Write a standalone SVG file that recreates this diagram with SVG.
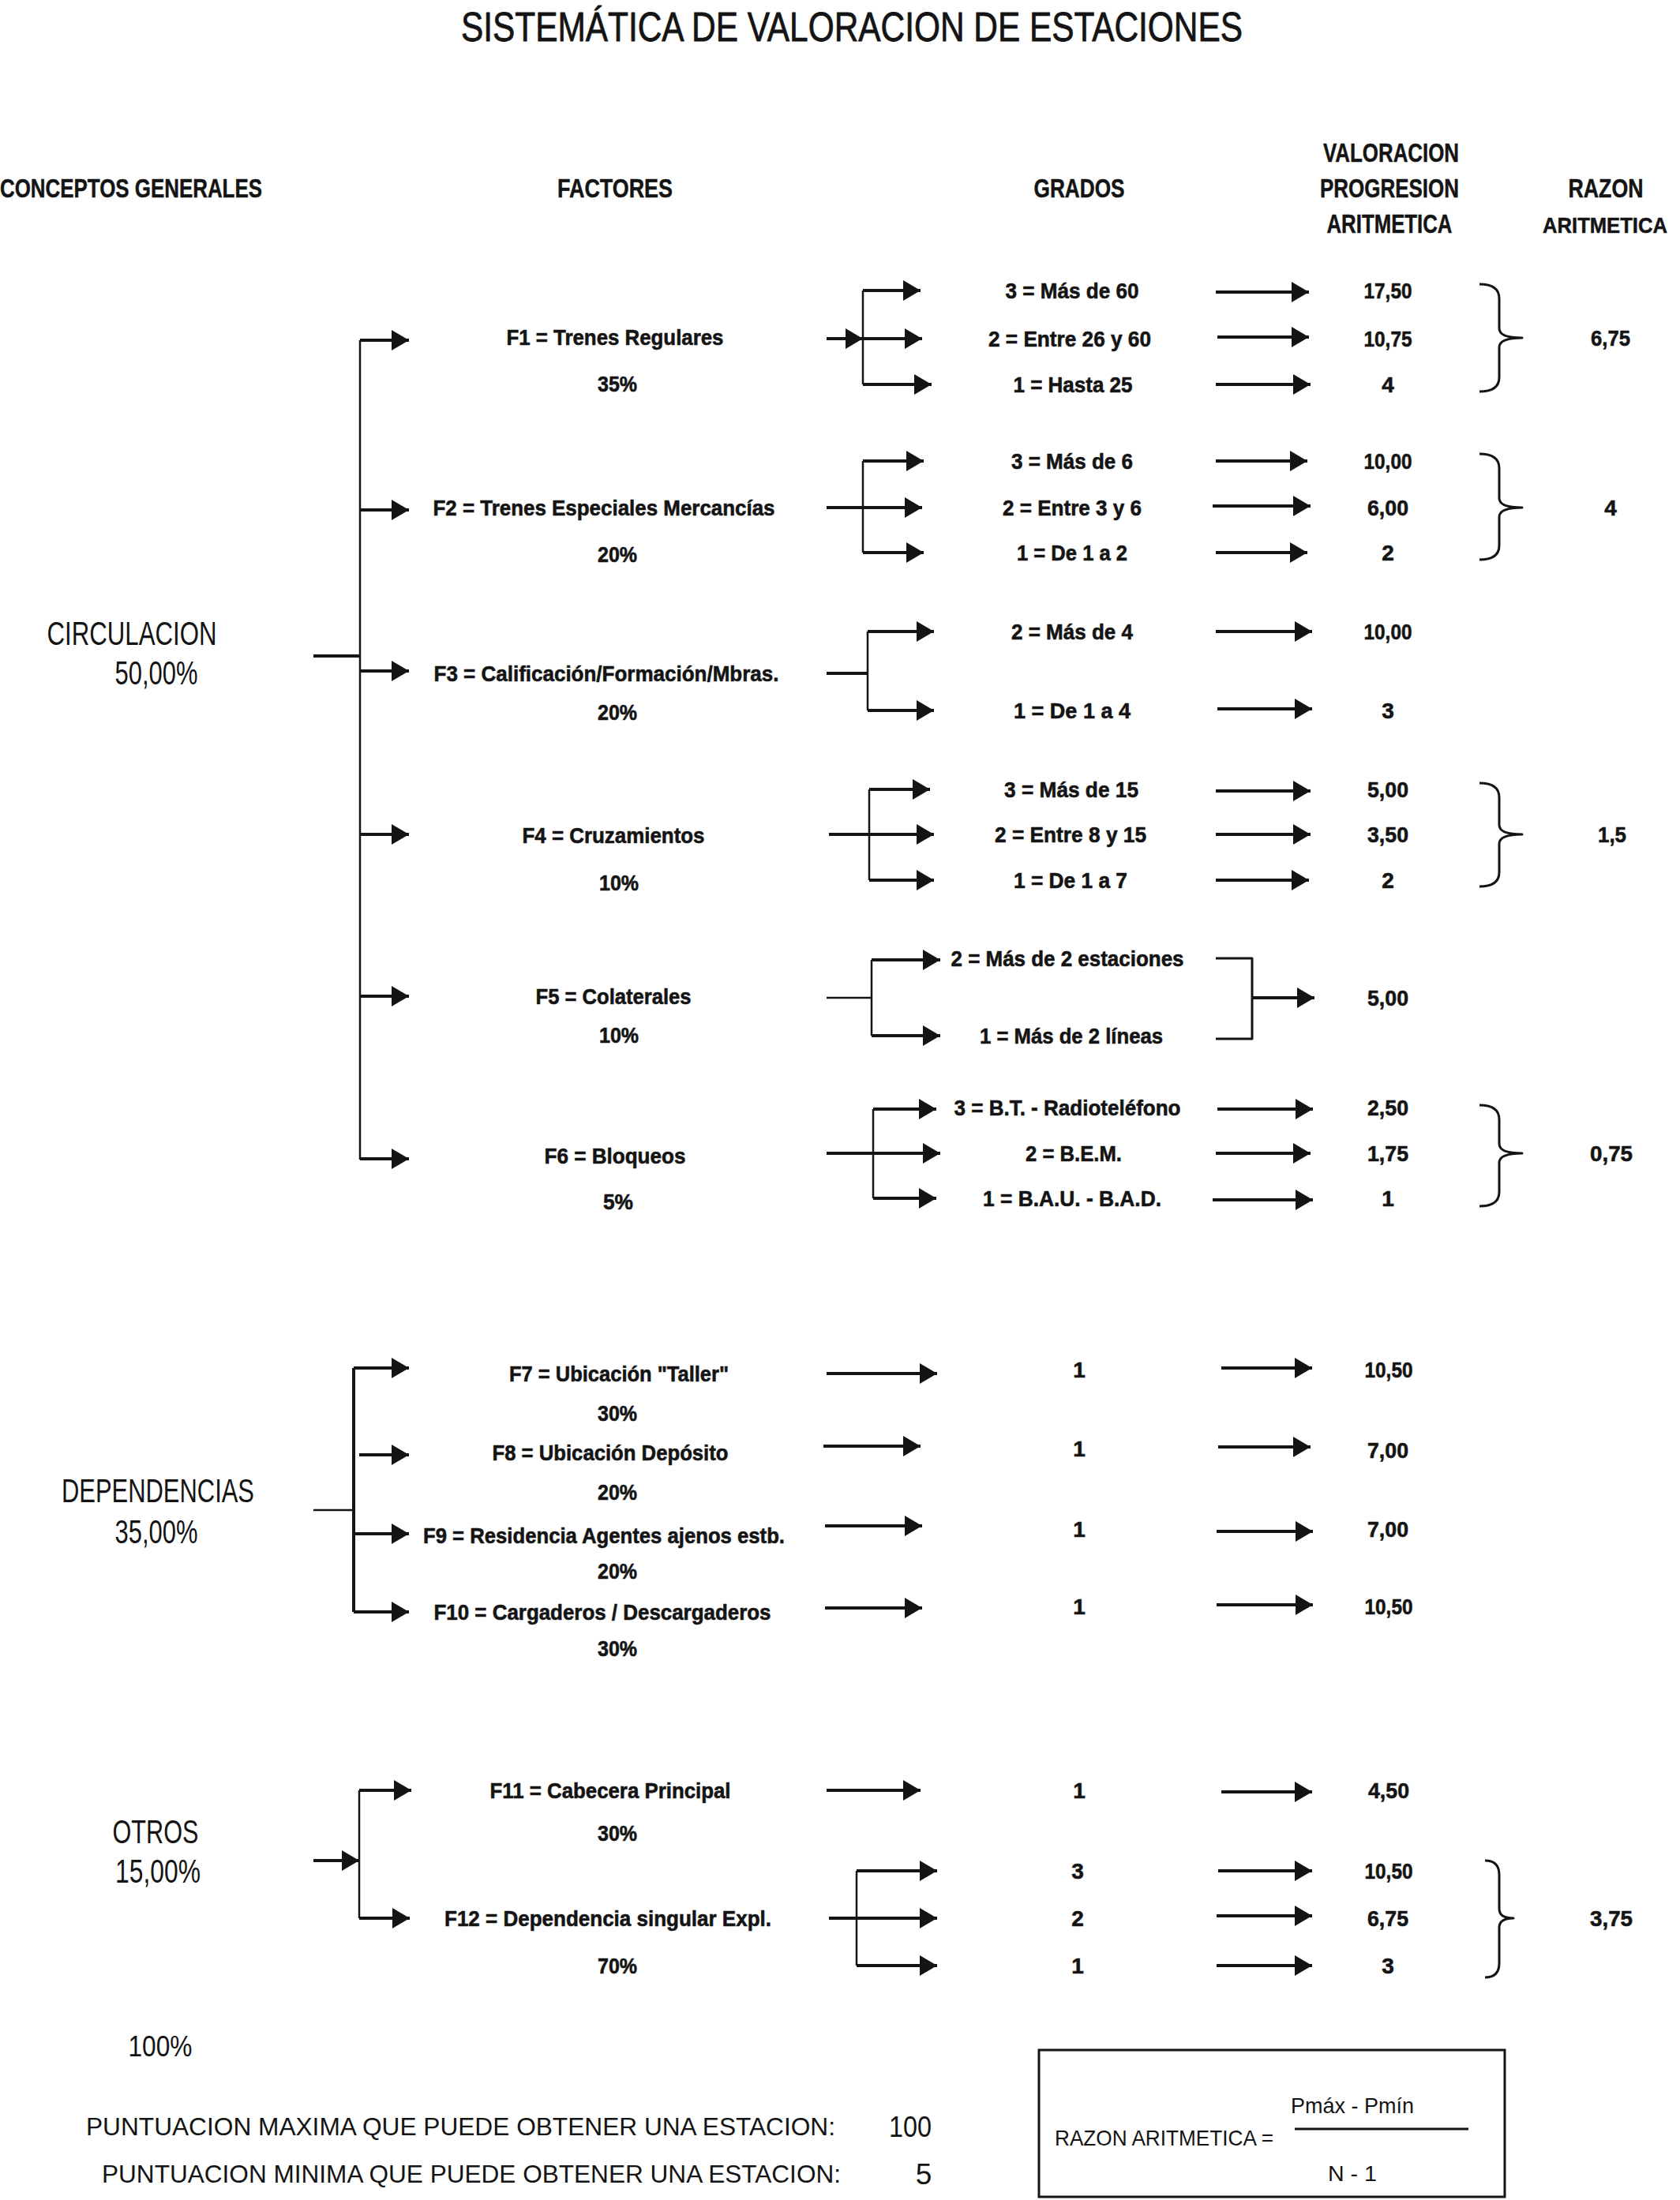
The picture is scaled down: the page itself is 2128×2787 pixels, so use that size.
<svg xmlns="http://www.w3.org/2000/svg" width="2128" height="2787" viewBox="0 0 2128 2787">
<defs>
<style>
text{font-family:"Liberation Sans",Arial,sans-serif;fill:#141414}
.m{text-anchor:middle}
.b{font-weight:bold;font-size:28px;stroke:#141414;stroke-width:0.6}
.h{font-weight:bold;font-size:34px;stroke:#141414;stroke-width:0.5}
.s{font-size:42px}
.r{font-size:37px}
.ln{stroke:#141414;fill:none;stroke-width:2.5}
.th{stroke:#141414;fill:none;stroke-width:4}
.ar{stroke:#141414;fill:none;stroke-width:4;marker-end:url(#ah)}
.br{stroke:#141414;fill:none;stroke-width:3;stroke-linejoin:round}
</style>
<marker id="ah" markerUnits="userSpaceOnUse" markerWidth="24" markerHeight="26" refX="22" refY="13" orient="auto">
<path d="M0,0 L22,13 L0,26 z" fill="#141414"/>
</marker>
</defs>
<rect width="2128" height="2787" fill="#ffffff"/>

<g id="title">
<text class="m" x="1079" y="52" font-size="52" stroke="#141414" stroke-width="0.8" textLength="990" lengthAdjust="spacingAndGlyphs">SISTEMÁTICA DE VALORACION DE ESTACIONES</text>
</g>

<g id="headers">
<text class="h" x="0" y="250" textLength="332" lengthAdjust="spacingAndGlyphs">CONCEPTOS GENERALES</text>
<text class="h m" x="779" y="250" textLength="146" lengthAdjust="spacingAndGlyphs">FACTORES</text>
<text class="h m" x="1367" y="250" textLength="115" lengthAdjust="spacingAndGlyphs">GRADOS</text>
<text class="h m" x="1762" y="205" textLength="172" lengthAdjust="spacingAndGlyphs">VALORACION</text>
<text class="h m" x="1760" y="250" textLength="176" lengthAdjust="spacingAndGlyphs">PROGRESION</text>
<text class="h m" x="1760" y="295" textLength="159" lengthAdjust="spacingAndGlyphs">ARITMETICA</text>
<text class="h m" x="2034" y="250" font-size="30" textLength="95" lengthAdjust="spacingAndGlyphs">RAZON</text>
<text class="h" x="1954" y="295" style="font-size:28px" textLength="158" lengthAdjust="spacingAndGlyphs">ARITMETICA</text>
</g>

<g id="circulacion">
<text class="s m" x="167" y="817" textLength="215" lengthAdjust="spacingAndGlyphs">CIRCULACION</text>
<text class="s m" x="198" y="867" textLength="105" lengthAdjust="spacingAndGlyphs">50,00%</text>
</g>

<g id="f1">
<text class="b m" x="779" y="437" textLength="275" lengthAdjust="spacingAndGlyphs">F1 = Trenes Regulares</text>
<text class="b m" x="782" y="496" textLength="50" lengthAdjust="spacingAndGlyphs">35%</text>
<text class="b m" x="1358" y="378" textLength="169" lengthAdjust="spacingAndGlyphs">3 = Más de 60</text>
<text class="b m" x="1355" y="439" textLength="206" lengthAdjust="spacingAndGlyphs">2 = Entre 26 y 60</text>
<text class="b m" x="1359" y="497" textLength="151" lengthAdjust="spacingAndGlyphs">1 = Hasta 25</text>
<text class="b m" x="1758" y="378" textLength="61" lengthAdjust="spacingAndGlyphs">17,50</text>
<text class="b m" x="1758" y="439" textLength="61" lengthAdjust="spacingAndGlyphs">10,75</text>
<text class="b m" x="1758" y="497">4</text>
<text class="b m" x="2040" y="438" textLength="50" lengthAdjust="spacingAndGlyphs">6,75</text>
</g>

<g id="f2">
<text class="b m" x="765" y="653" textLength="433" lengthAdjust="spacingAndGlyphs">F2 = Trenes Especiales Mercancías</text>
<text class="b m" x="782" y="712" textLength="50" lengthAdjust="spacingAndGlyphs">20%</text>
<text class="b m" x="1358" y="594" textLength="154" lengthAdjust="spacingAndGlyphs">3 = Más de 6</text>
<text class="b m" x="1358" y="653" textLength="176" lengthAdjust="spacingAndGlyphs">2 = Entre 3 y 6</text>
<text class="b m" x="1358" y="710" textLength="140" lengthAdjust="spacingAndGlyphs">1 = De 1 a 2</text>
<text class="b m" x="1758" y="594" textLength="61" lengthAdjust="spacingAndGlyphs">10,00</text>
<text class="b m" x="1758" y="653" textLength="52" lengthAdjust="spacingAndGlyphs">6,00</text>
<text class="b m" x="1758" y="710">2</text>
<text class="b m" x="2040" y="653">4</text>
</g>

<g id="f3">
<text class="b m" x="768" y="863" textLength="437" lengthAdjust="spacingAndGlyphs">F3 = Calificación/Formación/Mbras.</text>
<text class="b m" x="782" y="912" textLength="50" lengthAdjust="spacingAndGlyphs">20%</text>
<text class="b m" x="1358" y="810" textLength="154" lengthAdjust="spacingAndGlyphs">2 = Más de 4</text>
<text class="b m" x="1358" y="910" textLength="148" lengthAdjust="spacingAndGlyphs">1 = De 1 a 4</text>
<text class="b m" x="1758" y="810" textLength="61" lengthAdjust="spacingAndGlyphs">10,00</text>
<text class="b m" x="1758" y="910">3</text>
</g>

<g id="f4">
<text class="b m" x="777" y="1068" textLength="231" lengthAdjust="spacingAndGlyphs">F4 = Cruzamientos</text>
<text class="b m" x="784" y="1128" textLength="50" lengthAdjust="spacingAndGlyphs">10%</text>
<text class="b m" x="1357" y="1010" textLength="170" lengthAdjust="spacingAndGlyphs">3 = Más de 15</text>
<text class="b m" x="1356" y="1067" textLength="192" lengthAdjust="spacingAndGlyphs">2 = Entre 8 y 15</text>
<text class="b m" x="1356" y="1125" textLength="144" lengthAdjust="spacingAndGlyphs">1 = De 1 a 7</text>
<text class="b m" x="1758" y="1010" textLength="52" lengthAdjust="spacingAndGlyphs">5,00</text>
<text class="b m" x="1758" y="1067" textLength="52" lengthAdjust="spacingAndGlyphs">3,50</text>
<text class="b m" x="1758" y="1125">2</text>
<text class="b m" x="2042" y="1067" textLength="36" lengthAdjust="spacingAndGlyphs">1,5</text>
</g>

<g id="f5">
<text class="b m" x="777" y="1272" textLength="197" lengthAdjust="spacingAndGlyphs">F5 = Colaterales</text>
<text class="b m" x="784" y="1321" textLength="50" lengthAdjust="spacingAndGlyphs">10%</text>
<text class="b m" x="1352" y="1224" textLength="295" lengthAdjust="spacingAndGlyphs">2 = Más de 2 estaciones</text>
<text class="b m" x="1357" y="1322" textLength="232" lengthAdjust="spacingAndGlyphs">1 = Más de 2 líneas</text>
<text class="b m" x="1758" y="1274" textLength="52" lengthAdjust="spacingAndGlyphs">5,00</text>
</g>

<g id="f6">
<text class="b m" x="779" y="1474" textLength="179" lengthAdjust="spacingAndGlyphs">F6 = Bloqueos</text>
<text class="b m" x="783" y="1532" textLength="38" lengthAdjust="spacingAndGlyphs">5%</text>
<text class="b m" x="1352" y="1413" textLength="287" lengthAdjust="spacingAndGlyphs">3 = B.T. - Radioteléfono</text>
<text class="b m" x="1360" y="1471" textLength="122" lengthAdjust="spacingAndGlyphs">2 = B.E.M.</text>
<text class="b m" x="1358" y="1528" textLength="226" lengthAdjust="spacingAndGlyphs">1 = B.A.U. - B.A.D.</text>
<text class="b m" x="1758" y="1413" textLength="52" lengthAdjust="spacingAndGlyphs">2,50</text>
<text class="b m" x="1758" y="1471" textLength="52" lengthAdjust="spacingAndGlyphs">1,75</text>
<text class="b m" x="1758" y="1528">1</text>
<text class="b m" x="2041" y="1471" textLength="54" lengthAdjust="spacingAndGlyphs">0,75</text>
</g>

<g id="dependencias">
<text class="s m" x="200" y="1903" textLength="244" lengthAdjust="spacingAndGlyphs">DEPENDENCIAS</text>
<text class="s m" x="198" y="1955" textLength="105" lengthAdjust="spacingAndGlyphs">35,00%</text>
</g>

<g id="f7">
<text class="b m" x="784" y="1750" textLength="278" lengthAdjust="spacingAndGlyphs">F7 = Ubicación "Taller"</text>
<text class="b m" x="782" y="1800" textLength="50" lengthAdjust="spacingAndGlyphs">30%</text>
<text class="b m" x="1367" y="1745">1</text>
<text class="b m" x="1759" y="1745" textLength="61" lengthAdjust="spacingAndGlyphs">10,50</text>
</g>

<g id="f8">
<text class="b m" x="773" y="1850" textLength="299" lengthAdjust="spacingAndGlyphs">F8 = Ubicación Depósito</text>
<text class="b m" x="782" y="1900" textLength="50" lengthAdjust="spacingAndGlyphs">20%</text>
<text class="b m" x="1367" y="1845">1</text>
<text class="b m" x="1758" y="1847" textLength="52" lengthAdjust="spacingAndGlyphs">7,00</text>
</g>

<g id="f9">
<text class="b m" x="765" y="1955" textLength="458" lengthAdjust="spacingAndGlyphs">F9 = Residencia Agentes ajenos estb.</text>
<text class="b m" x="782" y="2000" textLength="50" lengthAdjust="spacingAndGlyphs">20%</text>
<text class="b m" x="1367" y="1947">1</text>
<text class="b m" x="1758" y="1947" textLength="52" lengthAdjust="spacingAndGlyphs">7,00</text>
</g>

<g id="f10">
<text class="b m" x="763" y="2052" textLength="427" lengthAdjust="spacingAndGlyphs">F10 = Cargaderos / Descargaderos</text>
<text class="b m" x="782" y="2098" textLength="50" lengthAdjust="spacingAndGlyphs">30%</text>
<text class="b m" x="1367" y="2045">1</text>
<text class="b m" x="1759" y="2045" textLength="61" lengthAdjust="spacingAndGlyphs">10,50</text>
</g>

<g id="otros">
<text class="s m" x="197" y="2335" textLength="109" lengthAdjust="spacingAndGlyphs">OTROS</text>
<text class="s m" x="200" y="2385" textLength="108" lengthAdjust="spacingAndGlyphs">15,00%</text>
</g>

<g id="f11">
<text class="b m" x="773" y="2278" textLength="305" lengthAdjust="spacingAndGlyphs">F11 = Cabecera Principal</text>
<text class="b m" x="782" y="2332" textLength="50" lengthAdjust="spacingAndGlyphs">30%</text>
<text class="b m" x="1367" y="2278">1</text>
<text class="b m" x="1759" y="2278" textLength="52" lengthAdjust="spacingAndGlyphs">4,50</text>
</g>

<g id="f12">
<text class="b m" x="770" y="2440" textLength="414" lengthAdjust="spacingAndGlyphs">F12 = Dependencia singular Expl.</text>
<text class="b m" x="782" y="2500" textLength="50" lengthAdjust="spacingAndGlyphs">70%</text>
<text class="b m" x="1365" y="2380">3</text>
<text class="b m" x="1365" y="2440">2</text>
<text class="b m" x="1365" y="2500">1</text>
<text class="b m" x="1759" y="2380" textLength="61" lengthAdjust="spacingAndGlyphs">10,50</text>
<text class="b m" x="1758" y="2440" textLength="52" lengthAdjust="spacingAndGlyphs">6,75</text>
<text class="b m" x="1758" y="2500">3</text>
<text class="b m" x="2041" y="2440" textLength="54" lengthAdjust="spacingAndGlyphs">3,75</text>
</g>

<g id="totales">
<text class="r m" x="203" y="2605" textLength="81" lengthAdjust="spacingAndGlyphs">100%</text>
<text x="109" y="2705" style="font-size:32px" textLength="949" lengthAdjust="spacingAndGlyphs">PUNTUACION MAXIMA QUE PUEDE OBTENER UNA ESTACION:</text>
<text class="r m" x="1153" y="2707" textLength="54" lengthAdjust="spacingAndGlyphs">100</text>
<text x="129" y="2765" style="font-size:32px" textLength="936" lengthAdjust="spacingAndGlyphs">PUNTUACION MINIMA QUE PUEDE OBTENER UNA ESTACION:</text>
<text class="r m" x="1170" y="2767">5</text>
</g>

<g id="formula">
<rect x="1316" y="2597" width="590" height="186" fill="none" stroke="#141414" stroke-width="3"/>
<text style="font-size:28px" x="1336" y="2718" textLength="277" lengthAdjust="spacingAndGlyphs">RAZON ARITMETICA =</text>
<text style="font-size:28px" class="m" x="1713" y="2677" textLength="156" lengthAdjust="spacingAndGlyphs">Pmáx - Pmín</text>
<line x1="1640" y1="2697" x2="1860" y2="2697" stroke="#141414" stroke-width="3"/>
<text style="font-size:28px" class="m" x="1713" y="2763" textLength="62" lengthAdjust="spacingAndGlyphs">N - 1</text>
</g>

<g id="connectors">
<!-- CIRCULACION -->
<line class="th" x1="397" y1="831" x2="456" y2="831"/>
<line class="ln" x1="456" y1="431" x2="456" y2="1469"/>
<line class="ar" x1="456" y1="431" x2="518" y2="431"/>
<line class="ar" x1="456" y1="646" x2="518" y2="646"/>
<line class="ar" x1="456" y1="850" x2="518" y2="850"/>
<line class="ar" x1="456" y1="1057" x2="518" y2="1057"/>
<line class="ar" x1="456" y1="1262" x2="518" y2="1262"/>
<line class="ar" x1="456" y1="1468" x2="518" y2="1468"/>
<!-- F1 -->
<line class="ar" x1="1047" y1="429" x2="1093" y2="429"/>
<line class="ln" x1="1093" y1="368" x2="1093" y2="487"/>
<line class="ar" x1="1093" y1="368" x2="1166" y2="368"/>
<line class="ar" x1="1093" y1="429" x2="1168" y2="429"/>
<line class="ar" x1="1093" y1="487" x2="1180" y2="487"/>
<line class="ar" x1="1540" y1="370" x2="1658" y2="370"/>
<line class="ar" x1="1542" y1="427" x2="1658" y2="427"/>
<line class="ar" x1="1540" y1="487" x2="1660" y2="487"/>
<path class="br" d="M1874,360 Q1899,360 1899,378 L1899,416 Q1899,428 1928,428 Q1899,428 1899,440 L1899,478 Q1899,496 1874,496"/>
<!-- F2 -->
<line class="th" x1="1047" y1="643" x2="1093" y2="643"/>
<line class="ln" x1="1093" y1="584" x2="1093" y2="700"/>
<line class="ar" x1="1093" y1="584" x2="1170" y2="584"/>
<line class="ar" x1="1093" y1="643" x2="1168" y2="643"/>
<line class="ar" x1="1093" y1="700" x2="1170" y2="700"/>
<line class="ar" x1="1540" y1="584" x2="1656" y2="584"/>
<line class="ar" x1="1536" y1="641" x2="1660" y2="641"/>
<line class="ar" x1="1540" y1="700" x2="1656" y2="700"/>
<path class="br" d="M1874,575 Q1899,575 1899,593 L1899,631 Q1899,643 1928,643 Q1899,643 1899,655 L1899,691 Q1899,709 1874,709"/>
<!-- F3 -->
<line class="th" x1="1047" y1="853" x2="1099" y2="853"/>
<line class="ln" x1="1099" y1="800" x2="1099" y2="900"/>
<line class="ar" x1="1099" y1="800" x2="1183" y2="800"/>
<line class="ar" x1="1099" y1="900" x2="1183" y2="900"/>
<line class="ar" x1="1540" y1="800" x2="1662" y2="800"/>
<line class="ar" x1="1542" y1="898" x2="1662" y2="898"/>
<!-- F4 -->
<line class="th" x1="1050" y1="1057" x2="1101" y2="1057"/>
<line class="ln" x1="1101" y1="1000" x2="1101" y2="1115"/>
<line class="ar" x1="1101" y1="1000" x2="1178" y2="1000"/>
<line class="ar" x1="1101" y1="1057" x2="1183" y2="1057"/>
<line class="ar" x1="1101" y1="1115" x2="1183" y2="1115"/>
<line class="ar" x1="1540" y1="1002" x2="1660" y2="1002"/>
<line class="ar" x1="1540" y1="1057" x2="1660" y2="1057"/>
<line class="ar" x1="1540" y1="1115" x2="1658" y2="1115"/>
<path class="br" d="M1874,992 Q1899,992 1899,1010 L1899,1045 Q1899,1057 1928,1057 Q1899,1057 1899,1069 L1899,1105 Q1899,1123 1874,1123"/>
<!-- F5 -->
<line class="ln" x1="1047" y1="1264" x2="1104" y2="1264"/>
<line class="ln" x1="1104" y1="1216" x2="1104" y2="1312"/>
<line class="ar" x1="1104" y1="1216" x2="1191" y2="1216"/>
<line class="ar" x1="1104" y1="1312" x2="1191" y2="1312"/>
<path class="br" d="M1540,1214 H1586 V1316 H1540"/>
<line class="ar" x1="1586" y1="1264" x2="1665" y2="1264"/>
<!-- F6 -->
<line class="th" x1="1047" y1="1461" x2="1106" y2="1461"/>
<line class="ln" x1="1106" y1="1405" x2="1106" y2="1518"/>
<line class="ar" x1="1106" y1="1405" x2="1186" y2="1405"/>
<line class="ar" x1="1106" y1="1461" x2="1191" y2="1461"/>
<line class="ar" x1="1106" y1="1518" x2="1186" y2="1518"/>
<line class="ar" x1="1542" y1="1405" x2="1663" y2="1405"/>
<line class="ar" x1="1540" y1="1461" x2="1660" y2="1461"/>
<line class="ar" x1="1536" y1="1520" x2="1663" y2="1520"/>
<path class="br" d="M1874,1400 Q1899,1400 1899,1418 L1899,1449 Q1899,1461 1928,1461 Q1899,1461 1899,1473 L1899,1510 Q1899,1528 1874,1528"/>
<!-- DEPENDENCIAS -->
<line class="ln" x1="397" y1="1913" x2="448" y2="1913"/>
<line class="th" x1="448" y1="1733" x2="448" y2="2042"/>
<line class="ar" x1="448" y1="1733" x2="518" y2="1733"/>
<line class="ar" x1="455" y1="1843" x2="518" y2="1843"/>
<line class="ar" x1="448" y1="1943" x2="518" y2="1943"/>
<line class="ar" x1="448" y1="2042" x2="518" y2="2042"/>
<line class="ar" x1="1047" y1="1740" x2="1187" y2="1740"/>
<line class="ar" x1="1043" y1="1832" x2="1166" y2="1832"/>
<line class="ar" x1="1045" y1="1933" x2="1168" y2="1933"/>
<line class="ar" x1="1045" y1="2037" x2="1168" y2="2037"/>
<line class="ar" x1="1547" y1="1733" x2="1662" y2="1733"/>
<line class="ar" x1="1543" y1="1833" x2="1660" y2="1833"/>
<line class="ar" x1="1541" y1="1940" x2="1663" y2="1940"/>
<line class="ar" x1="1541" y1="2033" x2="1663" y2="2033"/>
<!-- OTROS -->
<line class="ar" x1="397" y1="2357" x2="455" y2="2357"/>
<line class="ln" x1="455" y1="2268" x2="455" y2="2430"/>
<line class="ar" x1="455" y1="2268" x2="521" y2="2268"/>
<line class="ar" x1="455" y1="2430" x2="519" y2="2430"/>
<line class="ar" x1="1047" y1="2268" x2="1166" y2="2268"/>
<line class="ar" x1="1547" y1="2270" x2="1662" y2="2270"/>
<line class="th" x1="1050" y1="2430" x2="1085" y2="2430"/>
<line class="ln" x1="1085" y1="2370" x2="1085" y2="2490"/>
<line class="ar" x1="1085" y1="2370" x2="1187" y2="2370"/>
<line class="ar" x1="1085" y1="2430" x2="1187" y2="2430"/>
<line class="ar" x1="1085" y1="2490" x2="1187" y2="2490"/>
<line class="ar" x1="1543" y1="2370" x2="1662" y2="2370"/>
<line class="ar" x1="1541" y1="2427" x2="1662" y2="2427"/>
<line class="ar" x1="1541" y1="2490" x2="1662" y2="2490"/>
<path class="br" d="M1881,2357 Q1899,2357 1899,2375 L1899,2418 Q1899,2430 1917,2430 Q1899,2430 1899,2442 L1899,2487 Q1899,2505 1881,2505"/>
</g>
</svg>
